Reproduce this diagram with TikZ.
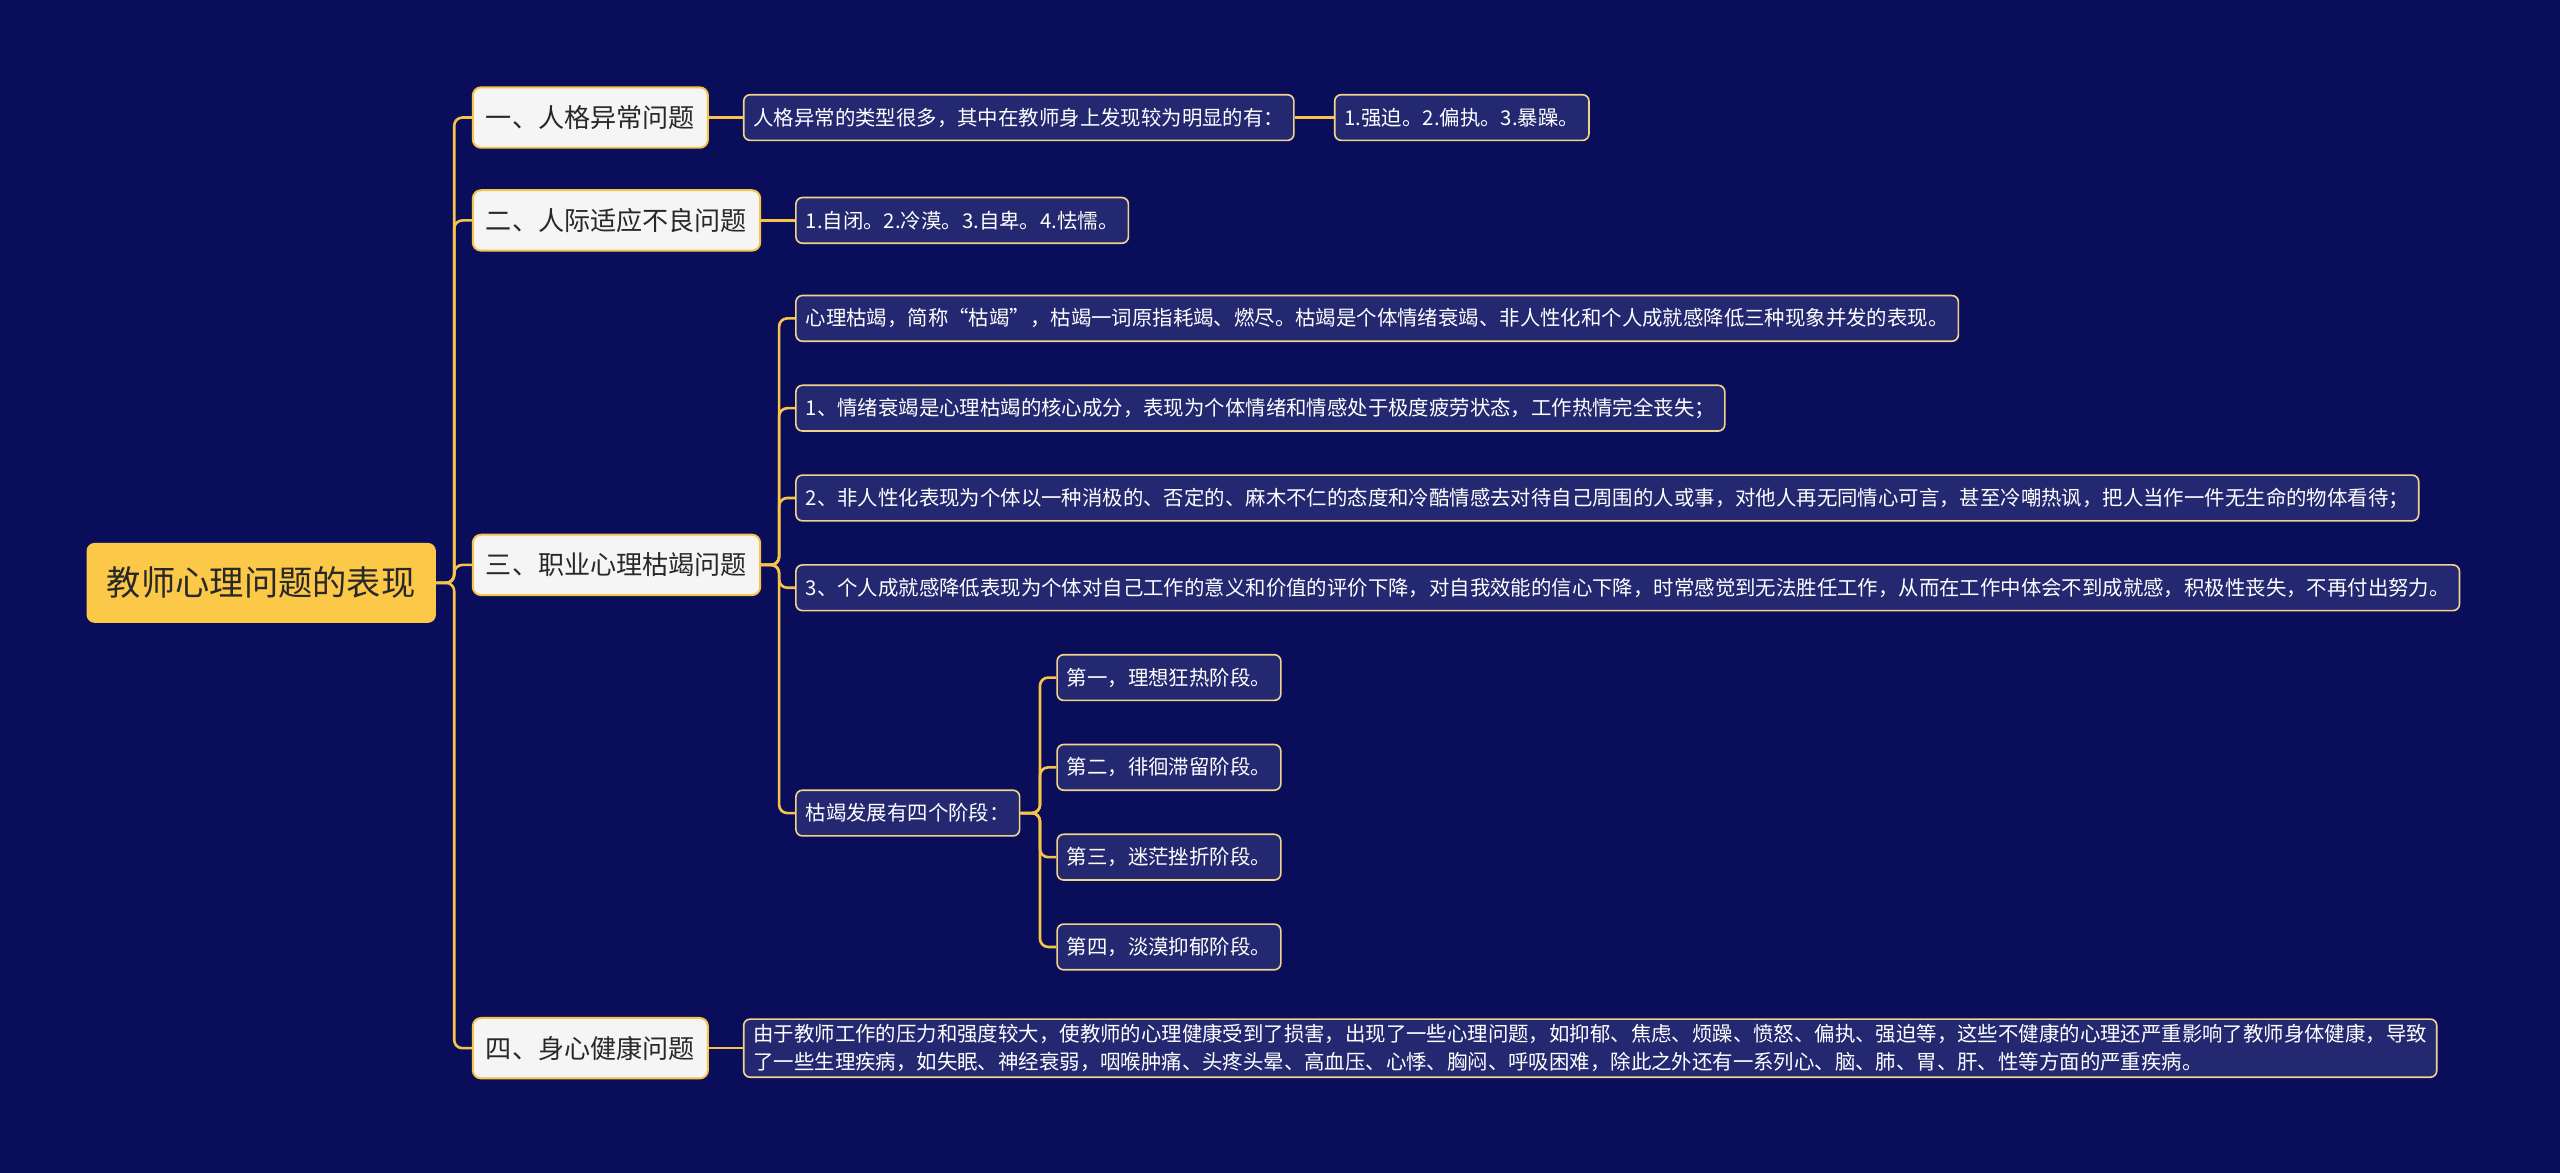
\documentclass[tikz,border=0pt]{standalone}
\usepackage{fontspec}
\setmainfont{Noto Sans CJK SC}
\usepackage{tikz}

\definecolor{bgnavy}{RGB}{10,14,90}
\definecolor{leafblue}{RGB}{35,40,112}
\definecolor{leafedge}{RGB}{240,212,140}
\definecolor{linegold}{RGB}{246,196,72}
\definecolor{rootgold}{RGB}{252,200,72}
\definecolor{topicwhite}{RGB}{245,245,245}
\definecolor{darktext}{RGB}{40,40,40}

\tikzset{
  rootbox/.style={fill=rootgold, text=darktext, rounded corners=5pt, minimum height=49pt,
    inner xsep=12.5pt, font=\fontsize{21}{25}\selectfont},
  topicbox/.style={fill=topicwhite, draw=linegold, line width=1.2pt, text=darktext, rounded corners=5pt,
    minimum height=37pt, inner xsep=8pt, anchor=west, font=\fontsize{16}{19}\selectfont},
  leafbox/.style={fill=leafblue, draw=leafedge, line width=1pt, text=white, rounded corners=4pt,
    minimum height=28pt, inner xsep=6pt, anchor=west, font=\fontsize{12.5}{17}\selectfont},
  link/.style={draw=linegold, line width=1.6pt, rounded corners=5pt}
}

\begin{document}
\begin{tikzpicture}[x=1pt, y=-1pt]
  \useasboundingbox (0,0) rectangle (1568,718);
  \fill[bgnavy] (-5,-5) rectangle (1573,723);

  \node[rootbox] (root) at (160,357) {教师心理问题的表现};

  \node[topicbox] (t1) at (289,72) {一、人格异常问题};
  \node[topicbox] (t2) at (289,135) {二、人际适应不良问题};
  \node[topicbox] (t3) at (289,346) {三、职业心理枯竭问题};
  \node[topicbox] (t4) at (289,642) {四、身心健康问题};

  \node[leafbox] (a1) at (455,72) {人格异常的类型很多，其中在教师身上发现较为明显的有：};
  \node[leafbox] (a2) at (817,72) {1.强迫。2.偏执。3.暴躁。};
  \node[leafbox] (b1) at (487,135) {1.自闭。2.冷漠。3.自卑。4.怯懦。};

  \node[leafbox] (c1) at (487,195) {心理枯竭，简称“枯竭”，枯竭一词原指耗竭、燃尽。枯竭是个体情绪衰竭、非人性化和个人成就感降低三种现象并发的表现。};
  \node[leafbox] (c2) at (487,250) {1、情绪衰竭是心理枯竭的核心成分，表现为个体情绪和情感处于极度疲劳状态，工作热情完全丧失；};
  \node[leafbox] (c3) at (487,305) {2、非人性化表现为个体以一种消极的、否定的、麻木不仁的态度和冷酷情感去对待自己周围的人或事，对他人再无同情心可言，甚至冷嘲热讽，把人当作一件无生命的物体看待；};
  \node[leafbox] (c4) at (487,360) {3、个人成就感降低表现为个体对自己工作的意义和价值的评价下降，对自我效能的信心下降，时常感觉到无法胜任工作，从而在工作中体会不到成就感，积极性丧失，不再付出努力。};
  \node[leafbox] (c5) at (487,498) {枯竭发展有四个阶段：};

  \node[leafbox] (s1) at (647,415) {第一，理想狂热阶段。};
  \node[leafbox] (s2) at (647,470) {第二，徘徊滞留阶段。};
  \node[leafbox] (s3) at (647,525) {第三，迷茫挫折阶段。};
  \node[leafbox] (s4) at (647,580) {第四，淡漠抑郁阶段。};

  \node[leafbox, align=left] (d1) at (455,642) {由于教师工作的压力和强度较大，使教师的心理健康受到了损害，出现了一些心理问题，如抑郁、焦虑、烦躁、愤怒、偏执、强迫等，这些不健康的心理还严重影响了教师身体健康，导致\\了一些生理疾病，如失眠、神经衰弱，咽喉肿痛、头疼头晕、高血压、心悸、胸闷、呼吸困难，除此之外还有一系列心、脑、肺、胃、肝、性等方面的严重疾病。};

  \foreach \n in {t1,t2,t3,t4}
    \draw[link] (root.east) -- ++(11,0) |- (\n.west);
  \draw[link] (t1.east) -- (a1.west);
  \draw[link] (a1.east) -- (a2.west);
  \draw[link] (t2.east) -- (b1.west);
  \draw[link] (t4.east) -- (d1.west);
  \foreach \n in {c1,c2,c3,c4,c5}
    \draw[link] (t3.east) -- ++(11,0) |- (\n.west);
  \foreach \n in {s1,s2,s3,s4}
    \draw[link] (c5.east) -- ++(12,0) |- (\n.west);
\end{tikzpicture}
\end{document}
